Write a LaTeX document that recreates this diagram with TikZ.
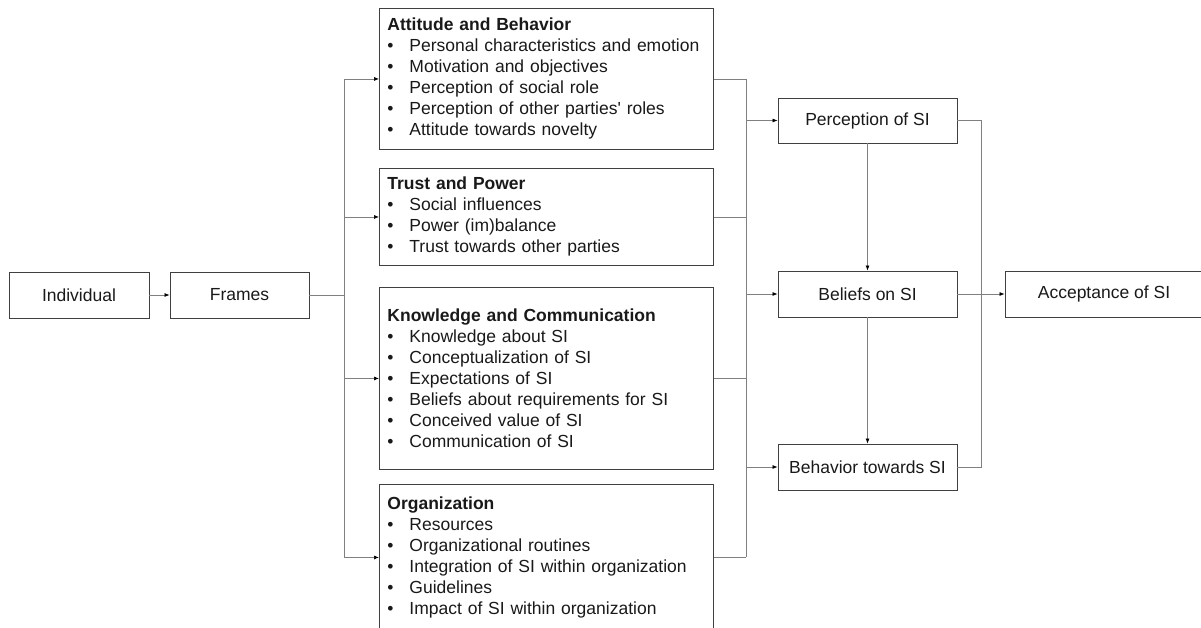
\documentclass[tikz,border=0pt]{standalone}
\usepackage{fontspec}
\setmainfont[Ligatures=TeXOff]{Liberation Sans}
\usetikzlibrary{arrows.meta}

\newcommand{\itm}[1]{\makebox[22pt][l]{\textbullet}#1}

\begin{document}
\begin{tikzpicture}[x=1pt,y=-1pt,>={Latex[length=5pt,width=4pt,color=black]},
        box/.style={draw=black!75, line width=0.9pt, text=black!90, font=\fontsize{17.5}{21}\selectfont, inner sep=0pt},
        smallbox/.style={box, minimum height=46pt},
        listbox/.style={box, anchor=north west, align=left, inner xsep=8pt, text width=318pt},
        conn/.style={draw=black!50, line width=0.7pt}]

        \useasboundingbox (0,0) rectangle (1201,628);

        % left part
        \node[smallbox, minimum width=140pt] (ind) at (79,295) {Individual};
        \node[smallbox, minimum width=139pt] (fra) at (239.5,295) {Frames};

        % the four frame boxes
        \node[listbox, minimum height=141pt] (ab) at (379,8) {\textbf{Attitude and Behavior}\\
            \itm{Personal characteristics and emotion}\\
            \itm{Motivation and objectives}\\
            \itm{Perception of social role}\\
            \itm{Perception of other parties' roles}\\
            \itm{Attitude towards novelty}};
        \node[listbox, minimum height=97pt] (tp) at (379,168) {\textbf{Trust and Power}\\
            \itm{Social influences}\\
            \itm{Power (im)balance}\\
            \itm{Trust towards other parties}};
        \node[listbox, minimum height=182pt] (kc) at (379,287) {\textbf{Knowledge and Communication}\\
            \itm{Knowledge about SI}\\
            \itm{Conceptualization of SI}\\
            \itm{Expectations of SI}\\
            \itm{Beliefs about requirements for SI}\\
            \itm{Conceived value of SI}\\
            \itm{Communication of SI}};
        \node[listbox, minimum height=146pt] (org) at (379,484) {\textbf{Organization}\\
            \itm{Resources}\\
            \itm{Organizational routines}\\
            \itm{Integration of SI within organization}\\
            \itm{Guidelines}\\
            \itm{Impact of SI within organization}};

        % right part
        \node[smallbox, minimum width=179pt, minimum height=45pt] (perc) at (867.5,120.5) {Perception of SI};
        \node[smallbox, minimum width=179pt] (bel) at (867.5,294) {Beliefs on SI};
        \node[smallbox, minimum width=179pt] (beh) at (867.5,467) {Behavior towards SI};
        \node[smallbox, minimum width=198pt] (acc) at (1104,294) {Acceptance of SI};

        %trunks
        \coordinate (lt) at (344,0);
        \coordinate (rt) at (746,0);
        \coordinate (lp) at (981,0);

        \draw[conn,->] (ind) -- (fra);
        \draw[conn] (fra.east) -- (fra.east -| lt);
        \draw[conn] (lt |- ab.west) -- (lt |- org.west);
        \foreach \b in {ab,tp,kc,org}
            \draw[conn,->] (lt |- \b.west) -- (\b.west);

        \foreach \b in {ab,tp,kc,org}
            \draw[conn] (\b.east) -- (rt |- \b.east);
        \draw[conn] (rt |- ab.east) -- (rt |- org.east);
        \foreach \c in {perc,bel,beh}
            \draw[conn,->] (rt |- \c.west) -- (\c.west);

        \draw[conn,->] (perc) -- (bel);
        \draw[conn,->] (bel) -- (beh);

        %loop on the right
        \draw[conn] (perc.east) -- (perc.east -| lp) -- (beh.east -| lp) -- (beh.east);
        \draw[conn,->] (bel) -- (acc);
    \end{tikzpicture}
\end{document}
